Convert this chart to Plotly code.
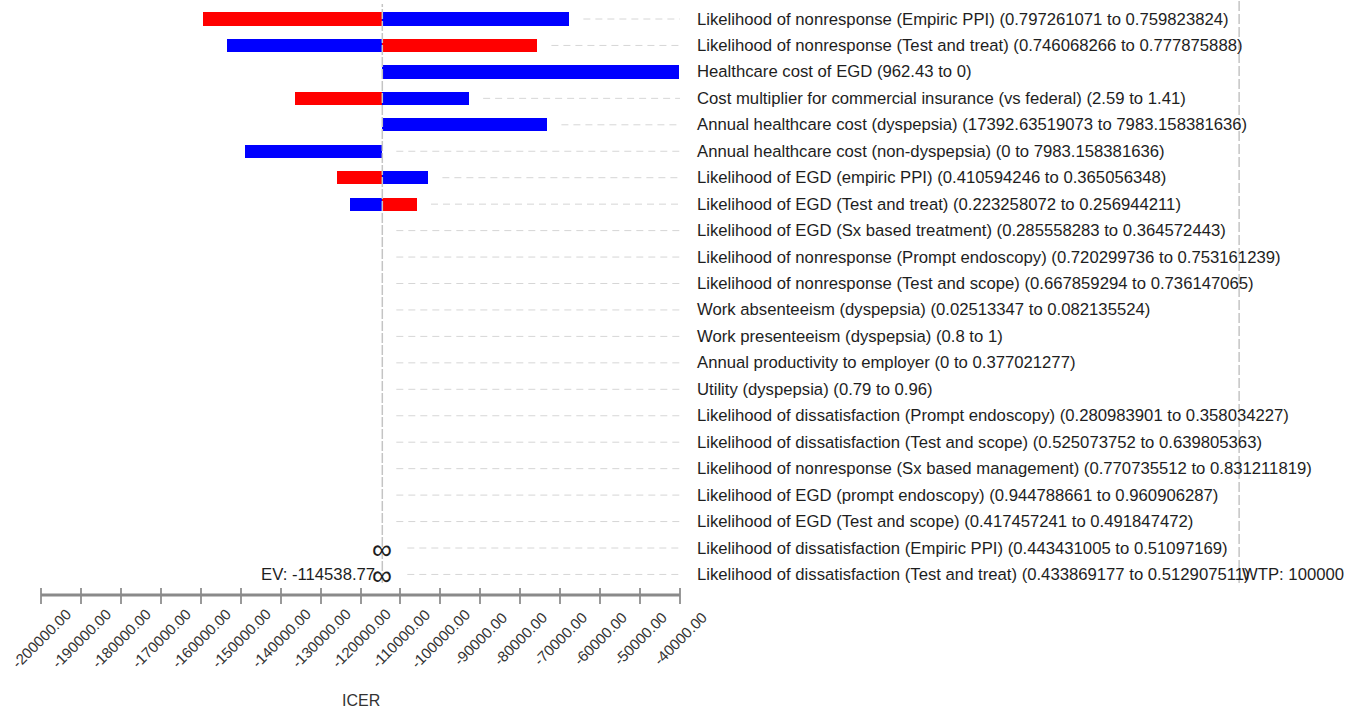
import plotly.graph_objects as go

# ---------------- data ----------------
labels = [
    "Likelihood of nonresponse (Empiric PPI) (0.797261071 to 0.759823824)",
    "Likelihood of nonresponse (Test and treat) (0.746068266 to 0.777875888)",
    "Healthcare cost of EGD (962.43 to 0)",
    "Cost multiplier for commercial insurance (vs federal) (2.59 to 1.41)",
    "Annual healthcare cost (dyspepsia) (17392.63519073 to 7983.158381636)",
    "Annual healthcare cost (non-dyspepsia) (0 to 7983.158381636)",
    "Likelihood of EGD (empiric PPI) (0.410594246 to 0.365056348)",
    "Likelihood of EGD (Test and treat) (0.223258072 to 0.256944211)",
    "Likelihood of EGD (Sx based treatment) (0.285558283 to 0.364572443)",
    "Likelihood of nonresponse (Prompt endoscopy) (0.720299736 to 0.753161239)",
    "Likelihood of nonresponse (Test and scope) (0.667859294 to 0.736147065)",
    "Work absenteeism (dyspepsia) (0.02513347 to 0.082135524)",
    "Work presenteeism (dyspepsia) (0.8 to 1)",
    "Annual productivity to employer (0 to 0.377021277)",
    "Utility (dyspepsia) (0.79 to 0.96)",
    "Likelihood of dissatisfaction (Prompt endoscopy) (0.280983901 to 0.358034227)",
    "Likelihood of dissatisfaction (Test and scope) (0.525073752 to 0.639805363)",
    "Likelihood of nonresponse (Sx based management) (0.770735512 to 0.831211819)",
    "Likelihood of EGD (prompt endoscopy) (0.944788661 to 0.960906287)",
    "Likelihood of EGD (Test and scope) (0.417457241 to 0.491847472)",
    "Likelihood of dissatisfaction (Empiric PPI) (0.443431005 to 0.51097169)",
    "Likelihood of dissatisfaction (Test and treat) (0.433869177 to 0.512907511)",
]

ev_icer = -114538.77
wtp = 100000

red_icer = [-159400, -75700, ev_icer, -136300, ev_icer, ev_icer, -125800, -105850] + [ev_icer] * 14
blue_icer = [-67700, -153400, -40300, -92800, -73200, -148800, -103000, -122600] + [ev_icer] * 14
infinite_rows = [20, 21]

tick_vals = list(range(-200000, -30000, 10000))
tick_text = [f"{v:.2f}" for v in tick_vals]

# ---------------- styling ----------------
FONT = "Liberation Sans, Arial, sans-serif"
W, H = 1347, 709
UNITS_PER_PX = 160000 / 639.0
X0 = tick_vals[0] - 41 * UNITS_PER_PX
X1 = X0 + W * UNITS_PER_PX
PLOT_BOTTOM = 587
ROW0 = 19
ROW_H = 26.45
Y_TOP = -ROW0 / ROW_H
Y_BOT = (PLOT_BOTTOM - ROW0) / ROW_H

rows = list(range(len(labels)))

fig = go.Figure()

# dashed guide lines from bar end to label
gap = 14 * UNITS_PER_PX
inf_gap = 25 * UNITS_PER_PX
gx, gy = [], []
for i in rows:
    if i in infinite_rows:
        start = ev_icer + inf_gap
    else:
        start = max(red_icer[i], blue_icer[i], ev_icer) + gap
    end = tick_vals[-1]
    if start < end:
        gx += [start, end, None]
        gy += [i, i, None]
fig.add_trace(go.Scatter(x=gx, y=gy, mode="lines",
                         line=dict(color="#d6d6d6", width=1, dash="7px,5px"),
                         hoverinfo="skip", showlegend=False))

fig.add_trace(go.Bar(y=rows, x=[v - ev_icer for v in red_icer], base=ev_icer,
                     orientation="h", marker=dict(color="#ff0000", line=dict(width=0)),
                     width=0.5, showlegend=False))
fig.add_trace(go.Bar(y=rows, x=[v - ev_icer for v in blue_icer], base=ev_icer,
                     orientation="h", marker=dict(color="#0000ff", line=dict(width=0)),
                     width=0.5, showlegend=False))

shapes = [
    dict(type="line", xref="x", yref="paper", x0=ev_icer, x1=ev_icer, y0=0.007, y1=0.993,
         line=dict(color="#c4c4c4", width=1.5, dash="10px,2px"), layer="above"),
    dict(type="line", xref="x", yref="paper", x0=wtp, x1=wtp, y0=0.007, y1=1,
         line=dict(color="#c4c4c4", width=1.5, dash="10px,3px"), layer="above"),
    dict(type="line", xref="x", yref="paper", x0=tick_vals[0], x1=tick_vals[-1],
         y0=-8 / PLOT_BOTTOM, y1=-8 / PLOT_BOTTOM,
         line=dict(color="#8a8a8a", width=3)),
]

annotations = []
for i, lab in enumerate(labels):
    annotations.append(dict(x=tick_vals[-1], y=i, xref="x", yref="y", text=lab,
                            xanchor="left", yanchor="middle", xshift=15, showarrow=False,
                            font=dict(family=FONT, size=16.7, color="#1e1e1e")))
for r in infinite_rows:
    annotations.append(dict(x=ev_icer, y=r, xref="x", yref="y", text="∞",
                            xanchor="center", yanchor="middle", yshift=-1, showarrow=False,
                            font=dict(family=FONT, size=28, color="#1e1e1e")))
annotations.append(dict(x=ev_icer, y=len(labels) - 1, xref="x", yref="y",
                        text=f"EV: {ev_icer:.2f}", xanchor="right", yanchor="middle",
                        xshift=-5, showarrow=False,
                        font=dict(family=FONT, size=16.7, color="#1e1e1e")))
annotations.append(dict(x=wtp, y=len(labels) - 1, xref="x", yref="y",
                        text=f"WTP: {wtp}", xanchor="left", yanchor="middle",
                        xshift=1, showarrow=False,
                        font=dict(family=FONT, size=16.7, color="#1e1e1e")))
for v, t in zip(tick_vals, tick_text):
    annotations.append(dict(x=v, y=0, xref="x", yref="paper", text=t, textangle=-45,
                            xanchor="center", yanchor="middle", yshift=-51, showarrow=False,
                            font=dict(family=FONT, size=15, color="#333333")))
annotations.append(dict(x=(tick_vals[0] + tick_vals[-1]) / 2, y=0, xref="x", yref="paper",
                        text="ICER", xanchor="center", yanchor="middle", yshift=-113,
                        showarrow=False, font=dict(family=FONT, size=16, color="#333333")))

fig.update_layout(
    width=W, height=H,
    margin=dict(l=0, r=0, t=0, b=H - PLOT_BOTTOM, pad=0),
    paper_bgcolor="white", plot_bgcolor="white",
    barmode="overlay", bargap=0,
    showlegend=False,
    shapes=shapes,
    annotations=annotations,
    xaxis=dict(range=[X0, X1], tickvals=tick_vals, showticklabels=False,
               ticks="outside", ticklen=16, tickwidth=1.5, tickcolor="#999999",
               showgrid=False, zeroline=False, showline=False, automargin=False,
               fixedrange=True),
    yaxis=dict(range=[Y_BOT, Y_TOP], visible=False, showgrid=False, zeroline=False,
               automargin=False, fixedrange=True),
    font=dict(family=FONT),
)

fig.write_html("out.html", config={"displayModeBar": False},
               post_script="document.body.style.margin='0';document.body.style.overflow='hidden';")
